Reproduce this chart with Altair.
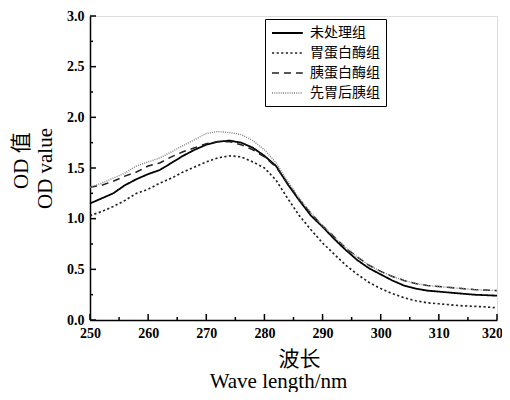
import altair as alt
import pandas as pd

wavelength = list(range(250, 321, 2))
untreated = [1.15, 1.20, 1.25, 1.33, 1.39, 1.44, 1.48, 1.55, 1.62, 1.68, 1.73, 1.76, 1.77, 1.75,
             1.70, 1.62, 1.52, 1.34, 1.18, 1.03, 0.92, 0.80, 0.69, 0.59, 0.51, 0.45, 0.39, 0.34,
             0.31, 0.29, 0.28, 0.27, 0.26, 0.25, 0.245, 0.24]
pepsin = [1.03, 1.07, 1.12, 1.18, 1.25, 1.29, 1.35, 1.40, 1.46, 1.51, 1.56, 1.60, 1.62, 1.61,
          1.56, 1.50, 1.38, 1.20, 1.03, 0.89, 0.76, 0.65, 0.54, 0.45, 0.37, 0.31, 0.26, 0.22,
          0.19, 0.17, 0.16, 0.15, 0.14, 0.135, 0.13, 0.12]
trypsin = [1.31, 1.33, 1.37, 1.42, 1.46, 1.52, 1.55, 1.61, 1.66, 1.70, 1.74, 1.76, 1.76, 1.73,
           1.68, 1.61, 1.51, 1.35, 1.19, 1.05, 0.93, 0.82, 0.71, 0.62, 0.54, 0.48, 0.43, 0.39,
           0.36, 0.34, 0.33, 0.32, 0.31, 0.30, 0.295, 0.29]
pep_tryp = [1.31, 1.35, 1.40, 1.45, 1.52, 1.56, 1.60, 1.66, 1.72, 1.78, 1.84, 1.86, 1.85, 1.83,
            1.77, 1.68, 1.55, 1.37, 1.20, 1.06, 0.93, 0.82, 0.71, 0.62, 0.54, 0.48, 0.43, 0.39,
            0.36, 0.34, 0.33, 0.32, 0.31, 0.30, 0.295, 0.29]

groups = ["未处理组", "胃蛋白酶组", "胰蛋白酶组", "先胃后胰组"]
group_colors = ["#000000", "#222222", "#222222", "#808080"]
group_dashes = [[1, 0], [2.2, 2.4], [7, 5], [1, 1.2]]
group_widths = [1.8, 1.4, 1.4, 1.0]

x_major = list(range(250, 321, 10))
x_minor = list(range(255, 320, 10))
y_major = [0.0, 0.5, 1.0, 1.5, 2.0, 2.5, 3.0]
y_minor = [0.25, 0.75, 1.25, 1.75, 2.25, 2.75]

rows = []
for g, vals in zip(groups, [untreated, pepsin, trypsin, pep_tryp]):
    for w, v in zip(wavelength, vals):
        rows.append({"wavelength": w, "od": v, "group": g})
df = pd.DataFrame(rows)

W, H = 407, 304
serif = "Liberation Serif, Noto Sans CJK SC, serif"
NB = "\u00a0"
ZW = "\u200b"

xscale = alt.Scale(domain=[250, 320], nice=False, zero=False)
yscale = alt.Scale(domain=[0, 3], nice=False)

xaxis = alt.Axis(values=x_major, ticks=False, grid=False, format=".0f", labelFlush=False,
                 labelOffset=alt.condition("datum.value == 320", alt.value(-5), alt.value(0)),
                 labelFont="Liberation Serif", labelFontWeight="bold", labelFontSize=14,
                 labelColor="black", labelPadding=6, domainColor="black", domainWidth=1.5,
                 title=[ZW + NB * 8 + "波长", "Wave length/nm"], titleFont=serif, titleFontSize=21,
                 titleFontWeight="normal", titleColor="black", titleLineHeight=22,
                 titleX=188, titleY=45, titleBaseline="alphabetic", titleAlign="center")
yaxis = alt.Axis(values=y_major, ticks=False, grid=False, format=".1f", labelFlush=False,
                 labelFont="Liberation Serif", labelFontWeight="bold", labelFontSize=14,
                 labelColor="black", labelPadding=6, domainColor="black", domainWidth=1.5,
                 title=[ZW + NB * 3 + "OD 值", "OD value"], titleFont=serif, titleFontSize=21,
                 titleFontWeight="normal", titleColor="black", titleLineHeight=24,
                 titleAngle=270, titleX=-63, titleY=H / 2, titleBaseline="alphabetic",
                 titleAlign="center")

legend = alt.Legend(orient="none", legendX=175, legendY=3, title=None,
                    strokeColor="black", fillColor="white", padding=6, cornerRadius=0,
                    symbolType="M-1,0H3.4", symbolSize=196, symbolStrokeColor="black",
                    labelFont="Noto Sans CJK SC", labelFontSize=14, labelColor="black",
                    labelOffset=23, rowPadding=5)

lines = alt.Chart(df).mark_line().encode(
    x=alt.X("wavelength:Q", scale=xscale, axis=xaxis),
    y=alt.Y("od:Q", scale=yscale, axis=yaxis),
    color=alt.Color("group:N", scale=alt.Scale(domain=groups, range=group_colors), legend=legend),
    strokeDash=alt.StrokeDash("group:N", scale=alt.Scale(domain=groups, range=group_dashes), legend=legend),
    strokeWidth=alt.StrokeWidth("group:N", scale=alt.Scale(domain=groups, range=group_widths), legend=legend),
)

xmaj = alt.Chart(pd.DataFrame({"wavelength": x_major})).mark_rule(color="black", strokeWidth=1.5).encode(
    x=alt.X("wavelength:Q", scale=xscale, axis=xaxis), y=alt.value(H), y2=alt.value(H - 6))
xmin = alt.Chart(pd.DataFrame({"wavelength": x_minor})).mark_rule(color="black", strokeWidth=1.5).encode(
    x=alt.X("wavelength:Q", scale=xscale, axis=xaxis), y=alt.value(H), y2=alt.value(H - 3))
ymaj = alt.Chart(pd.DataFrame({"od": y_major})).mark_rule(color="black", strokeWidth=1.5).encode(
    y=alt.Y("od:Q", scale=yscale, axis=yaxis), x=alt.value(0), x2=alt.value(6))
ymin = alt.Chart(pd.DataFrame({"od": y_minor})).mark_rule(color="black", strokeWidth=1.5).encode(
    y=alt.Y("od:Q", scale=yscale, axis=yaxis), x=alt.value(0), x2=alt.value(3))

chart = alt.layer(lines, xmaj, xmin, ymaj, ymin).properties(
    width=W, height=H,
    autosize=alt.AutoSizeParams(type="none"),
    padding={"left": 82, "top": 8, "right": 5, "bottom": 72},
).configure_view(stroke=None).configure(background="white")

chart.save("out.html", embed_options={"renderer": "svg", "actions": False})
